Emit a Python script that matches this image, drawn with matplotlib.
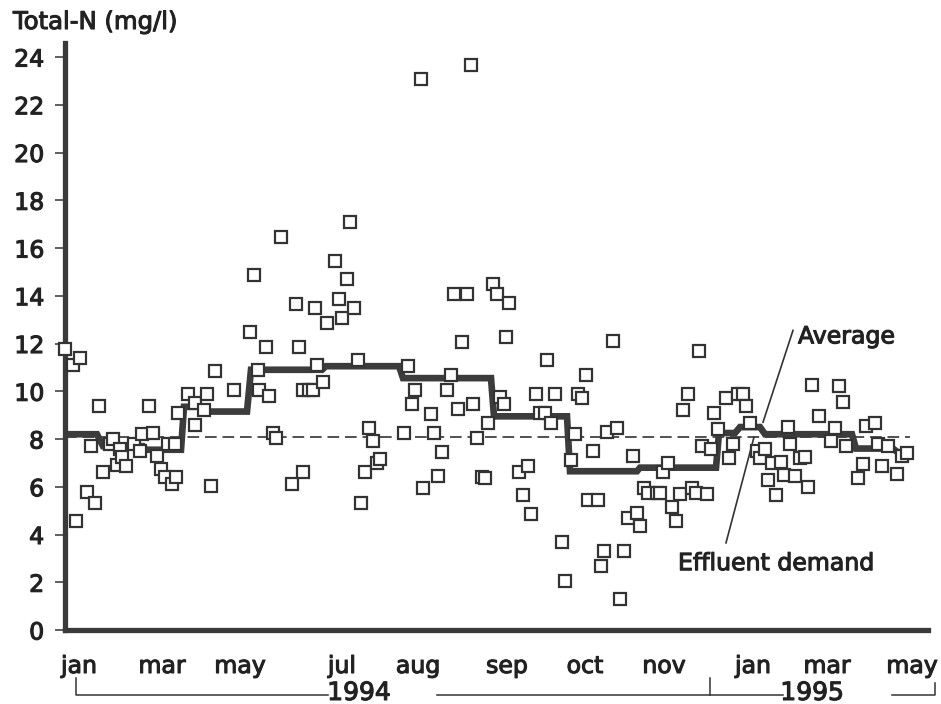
import matplotlib
matplotlib.use("Agg")
import matplotlib.pyplot as plt
import matplotlib.patheffects as pe

plt.rcParams['font.family'] = ['DejaVu Sans']

# sample positions along the time axis and Total-N readings (mg/l)
sample_pos = [65, 73, 80, 76, 87, 95, 91, 99, 103, 110, 113, 117, 120, 122, 126, 134,
              140, 142, 149, 153, 157, 161, 165, 168, 172, 176, 175, 178, 188, 195, 195,
              204, 207, 211, 215, 234, 250, 254, 258, 259, 266, 269, 273, 276, 281, 292,
              296, 299, 303, 303, 309, 313, 317, 315, 323, 327, 335, 339, 342, 347, 350,
              354, 358, 361, 365, 369, 373, 377, 380, 404, 408, 412, 415, 421, 423, 431,
              434, 438, 442, 447, 451, 454, 458, 462, 467, 471, 473, 477, 482, 485, 488,
              493, 497, 500, 504, 506, 509, 519, 523, 528, 531, 536, 540, 545, 547, 551,
              555, 562, 565, 571, 575, 578, 582, 586, 588, 593, 598, 601, 604, 607, 613,
              617, 620, 624, 628, 633, 637, 640, 644, 648, 657, 660, 663, 668, 672, 676,
              680, 683, 688, 692, 696, 699, 702, 707, 711, 714, 718, 726, 729, 733, 738,
              743, 746, 750, 757, 760, 765, 768, 772, 776, 781, 784, 788, 790, 795, 800,
              805, 808, 812, 819, 831, 835, 839, 843, 846, 858, 863, 866, 875, 878, 882,
              888, 897, 902, 907]
total_n = [11.75, 11.1, 11.4, 4.55, 5.8, 5.3, 7.7, 9.4, 6.6, 7.8, 8.0, 6.9, 7.6, 7.25, 6.85, 7.8,
           7.5, 8.2, 9.4, 8.25, 7.3, 6.75, 6.4, 7.8, 6.1, 6.4, 7.8, 9.1, 9.9, 9.5, 8.6,
           9.2, 9.9, 6.05, 10.85, 10.05, 12.5, 14.85, 10.9, 10.05, 11.85, 9.8, 8.25, 8.05, 16.45, 6.1,
           13.65, 11.85, 10.05, 6.6, 10.05, 10.05, 11.1, 13.5, 10.4, 12.85, 15.45, 13.85, 13.05, 14.7, 17.1,
           13.5, 11.3, 5.3, 6.6, 8.45, 7.9, 7.0, 7.15, 8.25, 11.05, 9.45, 10.05, 23.07, 5.95, 9.05,
           8.25, 6.45, 7.45, 10.05, 10.7, 14.07, 9.25, 12.06, 14.07, 23.66, 9.45, 8.05, 6.4, 6.35, 8.65,
           14.5, 14.07, 9.75, 9.45, 12.27, 13.7, 6.6, 5.65, 6.85, 4.85, 9.9, 9.1, 9.1, 11.3, 8.65,
           9.9, 3.7, 2.05, 7.1, 8.2, 9.9, 9.7, 10.7, 5.45, 7.5, 5.45, 2.7, 3.3, 8.3, 12.1,
           8.45, 1.3, 3.3, 4.7, 7.3, 4.9, 4.35, 5.95, 5.75, 5.75, 5.75, 6.6, 7.0, 5.15, 4.55,
           5.7, 9.2, 9.9, 5.95, 5.75, 11.7, 7.7, 5.7, 7.6, 9.1, 8.4, 9.7, 7.2, 7.8, 9.9,
           9.9, 9.4, 8.65, 7.5, 7.2, 7.6, 6.3, 7.0, 5.65, 7.05, 6.5, 8.5, 7.8, 6.45, 7.2,
           7.25, 6.0, 10.25, 8.95, 7.9, 8.45, 10.2, 9.55, 7.7, 6.35, 6.95, 8.55, 8.65, 7.8, 6.85,
           7.7, 6.55, 7.3, 7.4]

# running average (step line)
avg_pos = [65, 97, 103, 143, 146, 181, 184, 200, 206, 247, 251, 322, 326, 399, 403,
           491, 494, 567, 570, 637, 640, 716, 719, 735, 740, 760, 765, 852, 856, 893, 905]
avg_val = [8.2, 8.2, 7.7, 7.7, 7.55, 7.55, 9.35, 9.35, 9.15, 9.15, 10.9, 10.9, 11.05, 11.05, 10.55,
           10.55, 8.95, 8.95, 6.65, 6.65, 6.8, 6.8, 8.25, 8.25, 8.5, 8.5, 8.2, 8.2, 7.6, 7.6, 7.2]

effluent_demand = 8.1

month_labels = ['jan', 'mar', 'may', 'jul', 'aug', 'sep', 'oct', 'nov', 'jan', 'mar', 'may']
month_pos = [79, 162, 240, 342, 418, 507, 585, 664, 753, 827, 912]

dark = '#333333'
txt = '#222222'
heavy = [pe.withStroke(linewidth=0.8, foreground=txt)]

fig = plt.figure(figsize=(9.41, 7.04), dpi=100)
ax = fig.add_axes([65 / 941, 74 / 704, 863 / 941, 587.3 / 704])
ax.set_xlim(65, 928)
ax.set_ylim(0, 24.6)

ax.plot(avg_pos, avg_val, color='#3c3c3c', lw=4.8, solid_joinstyle='miter', zorder=2)
ax.plot([65, 910], [effluent_demand, effluent_demand], color=dark, lw=1.2,
        dashes=(7, 3.5), zorder=1)
ax.plot(sample_pos, total_n, ls='none', marker='s', ms=8, mfc='white', mec=dark,
        mew=1.6, zorder=3, clip_on=False)

for side in ['top', 'right']:
    ax.spines[side].set_visible(False)
for side in ['left', 'bottom']:
    ax.spines[side].set_linewidth(3.8)
    ax.spines[side].set_color('#3a3a3a')
    ax.spines[side].set_capstyle('projecting')

ax.set_yticks(range(0, 25, 2))
ax.tick_params(axis='y', direction='out', length=7, width=1.1, color=dark,
               labelsize=17, pad=8, labelcolor=txt)
for lab in ax.get_yticklabels():
    lab.set_path_effects(heavy)
ax.set_xticks([])

fig.text(13 / 941, 1 - 22 / 704, 'Total-N (mg/l)', fontsize=17.5, color=txt,
         va='center', ha='left', path_effects=heavy)

# month names below the axis
for pos, lab in zip(month_pos, month_labels):
    ax.text(pos, -1.8, lab, ha='center', va='baseline', fontsize=17,
            color=txt, clip_on=False, path_effects=heavy)

# year brackets
yb, yt = -2.72, -2.0
ax.plot([76, 76, 328], [yt, yb, yb], color=dark, lw=1.1, clip_on=False)
ax.plot([437, 783], [yb, yb], color=dark, lw=1.1, clip_on=False)
ax.plot([710, 710], [yt, yb], color=dark, lw=1.1, clip_on=False)
ax.plot([892, 935, 935], [yb, yb, -2.2], color=dark, lw=1.1, clip_on=False)
ax.text(359, -2.93, '1994', ha='center', va='baseline', fontsize=18,
        color=txt, clip_on=False, path_effects=heavy)
ax.text(812, -2.93, '1995', ha='center', va='baseline', fontsize=18,
        color=txt, clip_on=False, path_effects=heavy)

# annotations
ax.plot([793, 763], [12.55, 8.7], color=dark, lw=1.2)
ax.text(798, 12.3, 'Average', ha='left', va='center', fontsize=17,
        color=txt, path_effects=heavy)
ax.plot([726, 754], [3.65, 8.08], color=dark, lw=1.2)
ax.text(678, 2.8, 'Effluent demand', ha='left', va='center', fontsize=17,
        color=txt, path_effects=heavy)

fig.savefig('out.png', dpi=100, facecolor='white')
